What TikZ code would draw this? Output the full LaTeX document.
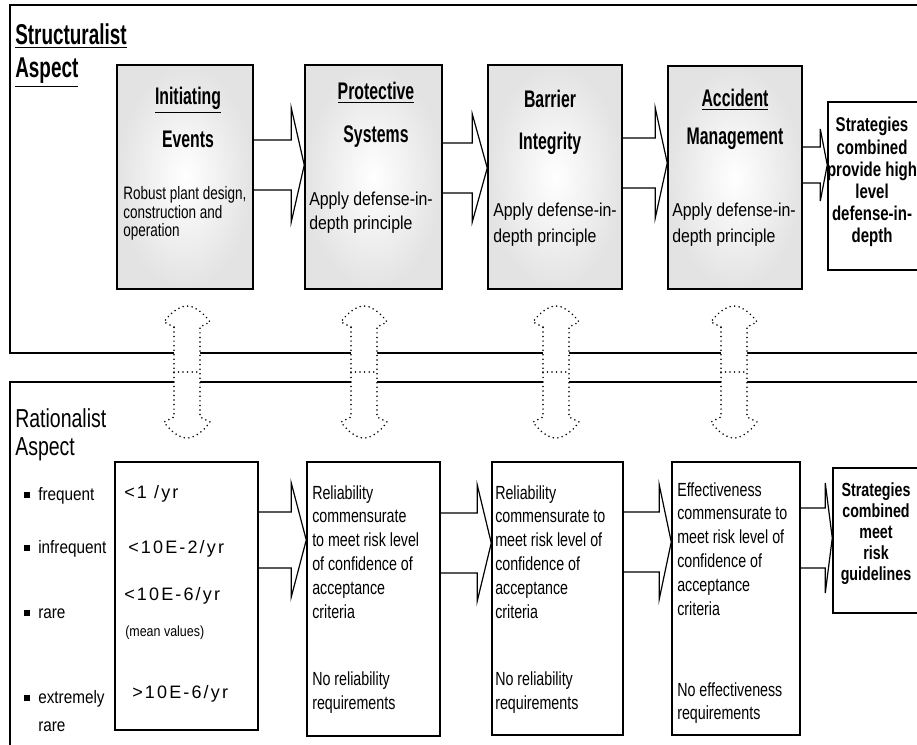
\documentclass[tikz,border=0pt]{standalone}
\usepackage{fontspec}
\setmainfont{Liberation Sans}
\newfontfamily\narrowfont{Liberation Sans}[FakeStretch=0.75]
\newfontfamily\titlefont{Liberation Sans}[FakeStretch=0.66]
\newfontfamily\semifont{Liberation Sans}[FakeStretch=0.85]
\newfontfamily\trackfont{Liberation Sans}[LetterSpace=12]
\usetikzlibrary{calc,fit}

\tikzset{
  panel/.style={line width=1.5pt},
  plainbox/.style={draw, line width=1.1pt, inner sep=0pt},
  shadedbox/.style={plainbox, inner color=white, outer color=gray!22},
  flowarr/.style={draw, line width=0.9pt, line join=miter},
  dotlink/.style={draw, fill=white, line width=1.3pt, line cap=round, dash pattern=on 0pt off 3.4pt},
  txt/.style={inner sep=0pt, anchor=base west},
  ctxt/.style={inner sep=0pt, anchor=base},
}

% stacked lines whose reference point is the first baseline
\newcommand\leftlines[1]{\begin{tabular}[t]{@{}l@{}}#1\end{tabular}}
\newcommand\centerlines[1]{\begin{tabular}[t]{@{}c@{}}#1\end{tabular}}

% block arrow: from node, to node, centre y, shaft half height, head half height, head length
\newcommand\flowarrow[6]{%
  \draw[flowarr]
    ($(#1.east |- 0,#3)+(0,-#4)$) -- ($(#2.west |- 0,#3)+(-#6,-#4)$)
    -- ($(#2.west |- 0,#3)+(-#6,-#5)$) -- (#2.west |- 0,#3)
    -- ($(#2.west |- 0,#3)+(-#6,#5)$) -- ($(#2.west |- 0,#3)+(-#6,#4)$)
    -- ($(#1.east |- 0,#3)+(0,#4)$);}

% dotted two-way link centred on a coordinate
\newcommand\dotlinkat[1]{%
  \draw[dotlink, shift={(#1)}]
    (-13,-45) -- (-23,-50) .. controls (-16,-60) and (-7,-66) .. (0,-66)
    .. controls (7,-66) and (16,-60) .. (23,-50) -- (13,-45) -- (13,45)
    -- (23,50) .. controls (16,60) and (7,66) .. (0,66)
    .. controls (-7,66) and (-16,60) .. (-23,50) -- (-13,45) -- cycle;
  \draw[dotlink, fill=none, shift={(#1)}] (-13,0) -- (13,0);}

\newcommand\sqbullet{\rule[1.2pt]{4.5pt}{4.5pt}\hspace{6pt}}

\begin{document}
\begin{tikzpicture}[x=0.75pt,y=-0.75pt]
\useasboundingbox (0,0) rectangle (917,745);
\clip (0,0) rectangle (917,745);
\fill[white] (0,0) rectangle (917,745);

% the two aspect panels
\draw[panel] (930,5) -- (10,5) -- (10,353) -- (930,353);
\draw[panel] (930,382) -- (10,382) -- (10,760);

% dotted links between the panels
\coordinate (l1) at (187,372);
\coordinate (l2) at (364,372);
\coordinate (l3) at (556,372);
\coordinate (l4) at (734,372);
\dotlinkat{l1}
\dotlinkat{l2}
\dotlinkat{l3}
\dotlinkat{l4}

% structuralist boxes
\node[shadedbox, fit={(117,65) (253,289)}] (ie) {};
\node[shadedbox, fit={(305,65) (442,289)}] (ps) {};
\node[shadedbox, fit={(488,65) (622,289)}] (bi) {};
\node[shadedbox, fit={(668,66) (802,289)}] (am) {};
\node[plainbox, fit={(828,102) (925,270)}] (sc) {};

\flowarrow{ie}{ps}{165}{25}{57}{13}
\flowarrow{ps}{bi}{168}{25}{54}{15}
\flowarrow{bi}{am}{163}{25}{55}{12}
\flowarrow{am}{sc}{165}{18}{36}{7}

% rationalist boxes
\node[plainbox, fit={(115,462) (258,730)}] (fr) {};
\node[plainbox, fit={(307,462) (440,736)}] (r1) {};
\node[plainbox, fit={(492,462) (623,735)}] (r2) {};
\node[plainbox, fit={(672,462) (800,735)}] (ef) {};
\node[plainbox, fit={(833,468) (925,613)}] (sm) {};

\flowarrow{fr}{r1}{540}{28}{57}{15}
\flowarrow{r1}{r2}{543}{30}{58}{14}
\flowarrow{r2}{ef}{542}{30}{57}{12}
\flowarrow{ef}{sm}{538}{30}{55}{7}

% panel headings
\node[txt] (shead) at (15,45) {\titlefont\bfseries\fontsize{21.5}{24.75}\selectfont
  \leftlines{\underline{Structuralist}\\\underline{Aspect}}};
\node[txt] (rhead) at (15,427) {\narrowfont\fontsize{19.5}{21}\selectfont
  \leftlines{Rationalist\\Aspect}};

% structuralist box texts
\node[ctxt] (iet) at (188,105) {\titlefont\bfseries\fontsize{18}{32}\selectfont
  \centerlines{\underline{Initiating}\\Events}};
\node[ctxt] (pst) at (376,100) {\titlefont\bfseries\fontsize{18}{32}\selectfont
  \centerlines{\underline{Protective}\\Systems}};
\node[ctxt] (bit) at (550,108) {\titlefont\bfseries\fontsize{18}{31.5}\selectfont
  \centerlines{Barrier\\Integrity}};
\node[ctxt] (amt) at (735,107) {\titlefont\bfseries\fontsize{18}{28.5}\selectfont
  \centerlines{\underline{Accident}\\Management}};

\node[txt] (ieb) at (123,200) {\narrowfont\fontsize{13.5}{13.5}\selectfont
  \leftlines{Robust plant design,\\construction and\\operation}};
\node[txt] (psb) at (309,206) {\semifont\fontsize{14}{18}\selectfont
  \leftlines{Apply defense-in-\\depth principle}};
\node[txt] (bib) at (493,217) {\semifont\fontsize{14}{19.5}\selectfont
  \leftlines{Apply defense-in-\\depth principle}};
\node[txt] (amb) at (672,217) {\semifont\fontsize{14}{19.5}\selectfont
  \leftlines{Apply defense-in-\\depth principle}};

\node[ctxt] (sct) at (872,132) {\narrowfont\bfseries\fontsize{15}{16.6}\selectfont
  \centerlines{Strategies\\combined\\provide high\\level\\defense-in-\\depth}};

% frequency categories
\node[txt] (c1) at (24,500) {\semifont\fontsize{13.5}{16}\selectfont\sqbullet frequent};
\node[txt] (c2) at (24,553) {\semifont\fontsize{13.5}{16}\selectfont\sqbullet infrequent};
\node[txt] (c3) at (24,618) {\semifont\fontsize{13.5}{16}\selectfont\sqbullet rare};
\node[txt] (c4) at (24,703) {\semifont\fontsize{13.5}{21}\selectfont
  \leftlines{\sqbullet extremely\\\phantom{\sqbullet}rare}};

% frequency values
\node[txt] (f1) at (124,498) {\trackfont\fontsize{13.5}{16}\selectfont <1 /yr};
\node[txt] (f2) at (128,553) {\trackfont\fontsize{13.5}{16}\selectfont <10E-2/yr};
\node[txt] (f3) at (124,600) {\trackfont\fontsize{13.5}{16}\selectfont <10E-6/yr};
\node[txt] (f4) at (125,636) {\semifont\fontsize{11}{13}\selectfont (mean values)};
\node[txt] (f5) at (132,698) {\trackfont\fontsize{13.5}{16}\selectfont >10E-6/yr};

% rationalist box texts
\node[txt] (r1t) at (312,499) {\narrowfont\fontsize{14.25}{17.85}\selectfont
  \leftlines{Reliability\\commensurate\\to meet risk level\\of confidence of\\acceptance\\criteria\\[33pt]No reliability\\requirements}};
\node[txt] (r2t) at (495,499) {\narrowfont\fontsize{14.25}{17.85}\selectfont
  \leftlines{Reliability\\commensurate to\\meet risk level of\\confidence of\\acceptance\\criteria\\[33pt]No reliability\\requirements}};
\node[txt] (eft) at (677,496) {\narrowfont\fontsize{14.25}{17.85}\selectfont
  \leftlines{Effectiveness\\commensurate to\\meet risk level of\\confidence of\\acceptance\\criteria\\[43pt]No effectiveness\\requirements}};
\node[ctxt] (smt) at (876,496) {\narrowfont\bfseries\fontsize{14.25}{15.75}\selectfont
  \centerlines{Strategies\\combined\\meet\\risk\\guidelines}};
\end{tikzpicture}
\end{document}
